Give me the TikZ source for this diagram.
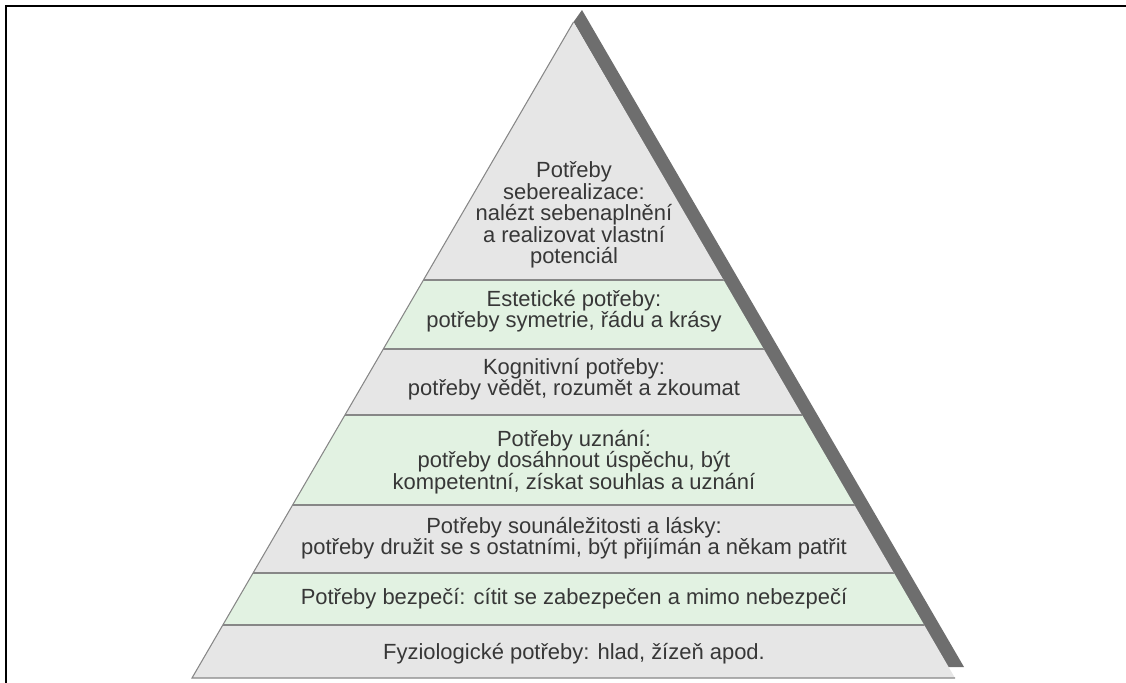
\documentclass[tikz,border=0pt]{standalone}
\usepackage{fontspec}
\setmainfont{Liberation Sans}
\usepackage{xcolor}
\usepackage{tikz}
\usetikzlibrary{positioning}

\definecolor{layergray}{RGB}{230,230,230}
\definecolor{layergreen}{RGB}{226,242,226}
\definecolor{edgegray}{RGB}{135,135,135}
\definecolor{shadowgray}{RGB}{110,110,110}
\definecolor{textgray}{RGB}{55,55,55}

\begin{document}
\begin{tikzpicture}[x=0.02cm,y=-0.02cm,
  levtext/.style={align=center,text=textgray,inner sep=0pt,
    font=\fontsize{12.5}{12.2}\selectfont},
  divider/.style={edgegray,line width=1pt}]
  \useasboundingbox (0,0) rectangle (1126,683);
  % frame, only top and left
  \draw[line width=1.2pt] (1126,6) -- (6,6) -- (6,683);
  % corners of the pyramid
  \coordinate (apex) at (573.5,22);
  \coordinate (bl) at (192,678);
  \coordinate (br) at (955,678);
  % shadow along the right side
  \fill[shadowgray] (apex) -- (582,10) -- (964,667) -- (946,667) -- cycle;
  % layers
  \begin{scope}
    \clip (apex) -- (bl) -- (br) -- cycle;
    \foreach \ya/\yb/\col in {0/280/layergray, 280/349/layergreen,
        349/415/layergray, 415/505/layergreen, 505/573/layergray,
        573/625/layergreen, 625/683/layergray}
      \fill[\col] (0,\ya) rectangle (1126,\yb);
    \foreach \y in {280,349,415,505,573,625}
      \draw[divider] (0,\y) -- (1126,\y);
  \end{scope}
  \draw[edgegray,line width=0.6pt] (apex) -- (bl) -- (br);
  % texts of the levels
  \node[levtext] (seberealizace) at (574,215)
    {Potřeby\\seberealizace:\\nalézt sebenaplnění\\a realizovat vlastní\\potenciál};
  \node[levtext] (esteticke) at (574,311)
    {Estetické potřeby:\\potřeby symetrie, řádu a krásy};
  \node[levtext] (kognitivni) at (574,379)
    {Kognitivní potřeby:\\potřeby vědět, rozumět a zkoumat};
  \node[levtext] (uznani) at (574,462)
    {Potřeby uznání:\\potřeby dosáhnout úspěchu, být\\kompetentní, získat souhlas a uznání};
  \node[levtext] (laska) at (574,538)
    {Potřeby sounáležitosti a lásky:\\potřeby družit se s ostatními, být přijímán a někam patřit};
  \node[levtext] (bezpeci) at (574,599)
    {Potřeby bezpečí: cítit se zabezpečen a mimo nebezpečí};
  \node[levtext] (fyzio) at (574,654)
    {Fyziologické potřeby: hlad, žízeň apod.};
\end{tikzpicture}
\end{document}
